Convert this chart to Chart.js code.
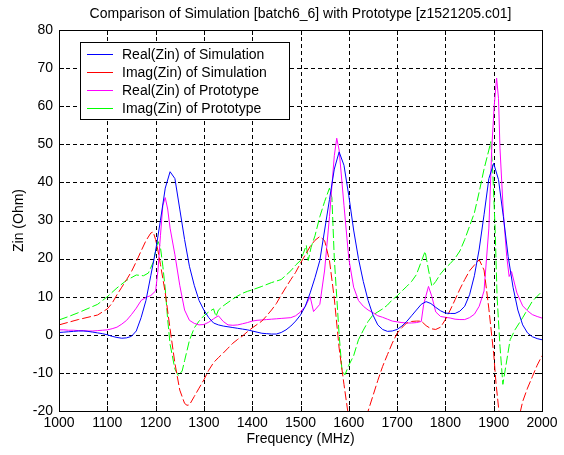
<!DOCTYPE html>
<html lang="en">
<head>
    <meta charset="UTF-8">
    <title>Comparison of Simulation with Prototype</title>
    <style>
        body {
            margin: 0;
            padding: 0;
            background: #fff;
        }
        .chart-container {
            width: 564px;
            height: 455px;
        }
    </style>
</head>
<body>
    <div class="chart-container">
        <canvas id="zinChart"></canvas>
    </div>

    <script src="https://cdn.jsdelivr.net/npm/chart.js"></script>
    <script>
        // Real(Zin) of Simulation
        const realSimFreq = [1000,1010,1020,1030,1040,1050,1060,1070,1080,1090,1100,1110,1120,1130,1140,1150,1160,1170,1180,1190,
            1200,1210,1220,1230,1240,1250,1260,1270,1280,1290,1300,1310,1320,1330,1340,1350,1360,1370,1380,1390,
            1400,1410,1420,1430,1440,1450,1460,1470,1480,1490,1500,1510,1520,1530,1540,1550,1560,1570,1580,1590,
            1600,1610,1620,1630,1640,1650,1660,1670,1680,1690,1700,1710,1720,1730,1740,1750,1760,1770,1780,1790,
            1800,1810,1820,1830,1840,1850,1860,1870,1880,1890,1900,1910,1920,1930,1940,1950,1960,1970,1980,1990,2000];
        const realSim = [0.6,0.7,0.8,0.9,1.0,1.0,0.9,0.7,0.5,0.3,0.0,-0.4,-0.7,-0.9,-0.8,-0.4,1.0,4.5,9,15.5,
            22,30,38.5,42.8,41,33,25,18,13,9,6.5,4.5,3.1,2.6,2.3,2.1,1.9,1.7,1.5,1.3,
            1.0,0.7,0.4,0.3,0.2,0.2,0.6,1.3,2.3,3.6,5.2,7.5,11,15,19.5,27.5,35.5,43.5,48,44.5,
            36.5,27.5,20,14,9,5.2,2.6,1.4,0.9,1.0,1.4,2.3,3.5,5,6.5,8,8.7,8.2,7.2,6.3,
            5.7,5.6,5.6,6.2,7.5,10.5,15.5,22.5,31.5,41,45,40.7,31,20.5,12.5,6.5,2.6,0.5,-0.5,-1.0,-1.3];

        // Imag(Zin) of Simulation
        const imagSimFreq = [1000,1020,1040,1060,1080,1100,1110,1120,1130,1140,1150,1160,1170,1180,1190,1195,1200,1205,1210,1220,
            1230,1240,1250,1260,1265,1270,1280,1290,1300,1310,1320,1330,1340,1350,1360,1370,1380,1390,1400,1410,
            1420,1430,1440,1450,1460,1470,1480,1490,1500,1510,1520,1530,1540,1550,1560,1570,1580,1590,1600,1610,
            1620,1630,1640,1650,1660,1670,1680,1690,1700,1710,1720,1730,1740,1750,1760,1770,1780,1790,1800,1810,
            1820,1830,1840,1850,1860,1870,1880,1885,1890,1900,1905,1910,1920,1930,1940,1950,1960,1970,1980,1990,2000];
        const imagSim = [2.6,3.3,4.0,4.6,5.2,6.8,8.3,10.5,12.5,14.5,16.6,19.2,22,24.7,26.7,27,25,22,18.5,11,
            1.5,-7.5,-14.5,-18,-18.5,-18.4,-16.2,-14,-11.8,-9.3,-7.3,-6,-4.8,-3.5,-2.2,-1.2,-0.3,0.8,1.8,2.7,
            3.6,5.0,6.5,8.2,10.4,12.5,14.5,16.4,18.8,21,23.2,24.8,25.8,24.7,19.5,9.5,-3.5,-13,-22,-30,
            -32,-29,-20,-16,-12,-8.3,-5.2,-2.2,0.4,1.9,3.1,3.5,3.6,3.6,2.4,1.6,1.4,2.0,4.0,6.5,
            9.2,12,14.5,16.8,18.3,19.7,17,12,6.8,-5,-13,-19,-29,-34,-31,-23,-17.5,-14,-11,-8,-5.5];

        // Real(Zin) of Prototype
        const realProtoFreq = [1000,1010,1020,1030,1040,1050,1060,1070,1080,1090,1100,1110,1120,1130,1140,1150,1160,1170,1180,1190,
            1200,1205,1210,1215,1220,1225,1230,1240,1250,1260,1270,1280,1290,1300,1310,1320,1330,1340,1350,1360,
            1370,1380,1390,1400,1410,1420,1430,1440,1450,1460,1470,1480,1490,1500,1510,1520,1527,1540,1550,1560,
            1570,1575,1580,1590,1600,1610,1620,1630,1640,1650,1660,1670,1680,1690,1700,1710,1720,1730,1740,1750,
            1755,1765,1772,1780,1790,1800,1810,1820,1830,1840,1850,1860,1870,1880,1890,1896,1901,1906,1910,1913,
            1920,1927,1932,1937,1948,1960,1970,1980,1990,2000];
        const realProto = [1.3,1.3,1.2,1.2,1.1,1.1,1.0,1.0,1.1,1.2,1.3,1.6,2.0,2.8,3.8,5.3,7,9,9.8,10.3,
            11.5,17,26,34,36,33,28,21,13,6.5,3.8,3.0,2.6,2.7,3.3,4.2,5.0,3.5,2.6,2.5,
            2.6,2.9,3.2,3.6,3.8,3.9,4.0,4.1,4.2,4.3,4.4,4.5,5.0,6.0,7.5,10,6.1,8,17,31,
            47,51.6,48.5,34,20,12.5,9,7.5,6.5,5.8,5.0,4.6,4.1,3.6,3.4,3.2,3.1,3.1,3.2,3.5,
            8,12.7,10,6,4.8,4.6,4.4,4.1,4.0,4.0,4.5,5.4,7.5,11.5,28,49,60,67.4,62,49,
            32,20.5,15.3,16.6,11,7.6,6.3,5.3,4.8,4.4];

        // Imag(Zin) of Prototype
        const imagProtoFreq = [1000,1020,1040,1060,1080,1100,1120,1140,1160,1175,1185,1195,1200,1205,1210,1215,1220,1225,1230,1240,
            1247,1255,1260,1270,1280,1290,1300,1310,1320,1325,1330,1340,1350,1360,1370,1380,1390,1400,1420,1440,
            1460,1480,1490,1500,1506,1512,1516,1522,1530,1540,1550,1560,1565,1570,1575,1580,1586,1592,1600,1610,
            1620,1630,1640,1650,1660,1670,1680,1690,1700,1710,1720,1730,1740,1750,1758,1765,1772,1780,1790,1800,
            1810,1820,1830,1840,1850,1860,1870,1880,1890,1894,1898,1903,1907,1913,1919,1925,1934,1944,1960,1980,2000];
        const imagProto = [3.9,4.8,5.8,6.9,8.0,10,12.3,14.3,15.7,15.5,16.2,19,22,24.5,23,18,12,4,-2.5,-9,
            -10.7,-9.5,-6.8,-1.5,1.8,3.6,5,6,6.8,4.8,6.5,7.6,8.5,9.4,10.2,10.9,11.4,11.8,12.7,13.7,
            14.5,16.8,18.3,19.5,21.4,23.5,19.5,23,26,31,35,38.5,36,20,10,0,-9.5,-10.5,-8,-5.5,
            -1.3,1.2,3.5,5.2,6,6.8,7.8,9.2,10.2,11.5,12.7,14,15.8,19.2,21.9,17,12.7,14,16,17.5,
            18.7,20.1,22,25,28.5,32,37.5,43.5,48.5,50.7,43,27.6,10,-3,-13,-8.3,-1.3,1.3,4.5,8.8,11.4];

        const xTicks = [1000,1100,1200,1300,1400,1500,1600,1700,1800,1900,2000];
        const yTicks = [-20,-10,0,10,20,30,40,50,60,70,80];

        const toPoints = (xs, ys) => xs.map((x, i) => ({ x: x, y: ys[i] }));
        const FONT = 'Arial, "Liberation Sans", sans-serif';

        // Grade tracejada por baixo das curvas
        const gridPlugin = {
            id: 'gridPlugin',
            beforeDatasetsDraw(chart) {
                const { ctx, chartArea: a, scales } = chart;
                ctx.save();
                ctx.strokeStyle = '#000';
                ctx.lineWidth = 1;
                ctx.setLineDash([4, 3]);
                ctx.beginPath();
                xTicks.forEach(v => {
                    const px = Math.round(scales.x.getPixelForValue(v)) + 0.5;
                    ctx.moveTo(px, a.top); ctx.lineTo(px, a.bottom);
                });
                yTicks.forEach(v => {
                    const py = Math.round(scales.y.getPixelForValue(v)) + 0.5;
                    ctx.moveTo(a.left, py); ctx.lineTo(a.right, py);
                });
                ctx.stroke();
                ctx.restore();
            }
        };

        // Moldura, marcas internas, titulo e legenda
        const framePlugin = {
            id: 'framePlugin',
            afterDatasetsDraw(chart) {
                const { ctx, chartArea: a, scales } = chart;
                ctx.save();
                ctx.strokeStyle = '#000';
                ctx.lineWidth = 1;
                ctx.setLineDash([]);
                ctx.strokeRect(Math.round(a.left) + 0.5, Math.round(a.top) + 0.5,
                    Math.round(a.right - a.left), Math.round(a.bottom - a.top));
                ctx.beginPath();
                xTicks.forEach(v => {
                    const px = Math.round(scales.x.getPixelForValue(v)) + 0.5;
                    ctx.moveTo(px, a.bottom); ctx.lineTo(px, a.bottom - 5);
                    ctx.moveTo(px, a.top); ctx.lineTo(px, a.top + 5);
                });
                yTicks.forEach(v => {
                    const py = Math.round(scales.y.getPixelForValue(v)) + 0.5;
                    ctx.moveTo(a.left, py); ctx.lineTo(a.left + 5, py);
                    ctx.moveTo(a.right, py); ctx.lineTo(a.right - 5, py);
                });
                ctx.stroke();

                // titulo
                ctx.fillStyle = '#000';
                ctx.font = '14px ' + FONT;
                ctx.textAlign = 'center';
                ctx.textBaseline = 'middle';
                ctx.fillText('Comparison of Simulation [batch6_6] with Prototype [z1521205.c01]', (a.left + a.right) / 2, 14);

                // legenda
                ctx.fillStyle = '#fff';
                ctx.fillRect(80.5, 42.5, 209, 77);
                ctx.strokeStyle = '#000';
                ctx.strokeRect(80.5, 42.5, 209, 77);
                ctx.textAlign = 'left';
                chart.data.datasets.forEach((ds, i) => {
                    const y = 54.5 + i * 18;
                    ctx.strokeStyle = ds.borderColor;
                    ctx.beginPath();
                    ctx.moveTo(87, y); ctx.lineTo(113, y);
                    ctx.stroke();
                    ctx.fillStyle = '#000';
                    ctx.fillText(ds.label, 122, y + 1);
                });
                ctx.restore();
            }
        };

        new Chart(document.getElementById('zinChart').getContext('2d'), {
            type: 'line',
            data: {
                datasets: [
                    { label: 'Real(Zin) of Simulation', data: toPoints(realSimFreq, realSim), borderColor: '#0000ff' },
                    { label: 'Imag(Zin) of Simulation', data: toPoints(imagSimFreq, imagSim), borderColor: '#ff0000', borderDash: [9, 3] },
                    { label: 'Real(Zin) of Prototype', data: toPoints(realProtoFreq, realProto), borderColor: '#ff00ff' },
                    { label: 'Imag(Zin) of Prototype', data: toPoints(imagProtoFreq, imagProto), borderColor: '#00ff00', borderDash: [9, 3] }
                ]
            },
            options: {
                responsive: true,
                maintainAspectRatio: false,
                animation: false,
                layout: { padding: { top: 30, right: 22, left: 0, bottom: 0 } },
                elements: {
                    line: { borderWidth: 1, tension: 0, fill: false },
                    point: { radius: 0 }
                },
                plugins: {
                    legend: { display: false },
                    title: { display: false },
                    tooltip: { enabled: false }
                },
                scales: {
                    x: {
                        type: 'linear',
                        min: 1000,
                        max: 2000,
                        afterFit(scale) { scale.height = 44; },
                        afterBuildTicks(scale) { scale.ticks = xTicks.map(v => ({ value: v })); },
                        ticks: {
                            color: '#000', padding: 4, maxRotation: 0,
                            font: { family: FONT, size: 14 },
                            callback: v => String(v)
                        },
                        grid: { display: false, drawTicks: false },
                        border: { display: false },
                        title: { display: true, text: 'Frequency (MHz)', color: '#000', font: { family: FONT, size: 14 }, padding: { top: 0, bottom: 7 } }
                    },
                    y: {
                        min: -20,
                        max: 80,
                        afterFit(scale) { scale.width = 59; },
                        afterBuildTicks(scale) { scale.ticks = yTicks.map(v => ({ value: v })); },
                        ticks: {
                            color: '#000', padding: 6,
                            font: { family: FONT, size: 14 },
                            callback: v => String(v)
                        },
                        grid: { display: false, drawTicks: false },
                        border: { display: false },
                        title: { display: true, text: 'Zin (Ohm)', color: '#000', font: { family: FONT, size: 14 }, padding: { top: 11, bottom: 0 } }
                    }
                }
            },
            plugins: [gridPlugin, framePlugin]
        });
    </script>
</body>
</html>
